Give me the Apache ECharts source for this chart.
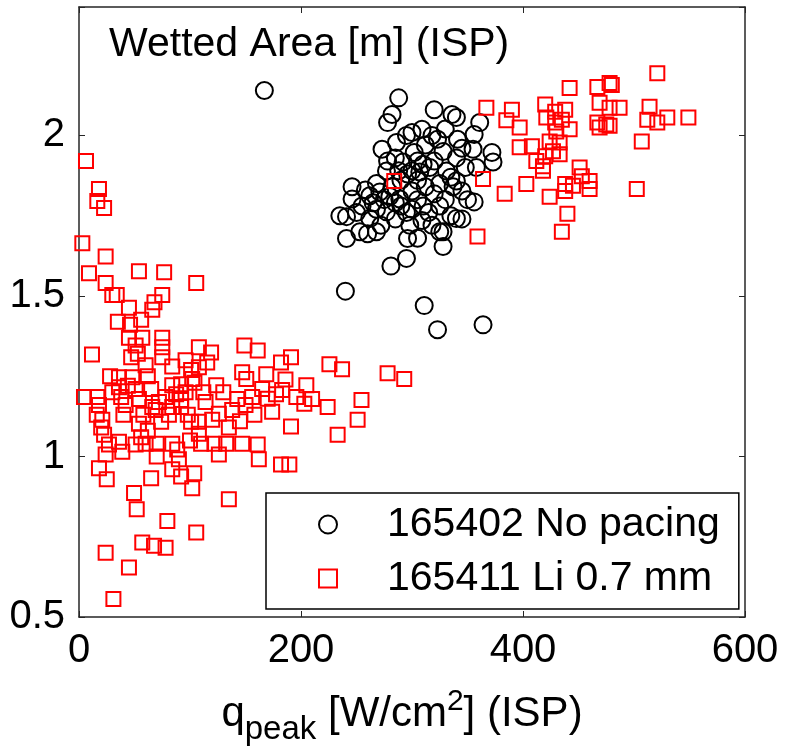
<!DOCTYPE html>
<html>
<head>
<meta charset="utf-8">
<script src="https://cdn.jsdelivr.net/npm/echarts@6/dist/echarts.min.js"></script>
<style>
  html, body { margin: 0; padding: 0; background: #fff; }
  #chart { width: 785px; height: 751px; }
</style>
</head>
<body>
<div id="chart"></div>
<script>
// Wetted area at the inner strike point versus peak heat flux, two discharges.
const seriesNames = ['165402 No pacing', '165411 Li 0.7 mm'];
const xTicks = [0, 200, 400, 600];
const yTicks = [0.5, 1, 1.5, 2];

// 165402, no pacing: [q_peak (W/cm^2), wetted area (m)]
const noPacing = [
  [167,2.14],[240,1.515],[311,1.47],[323,1.395],[364,1.41],[281,1.593],[295,1.617],[328,1.654],
  [296,1.679],[328,1.70],[309,1.735],[340,1.741],[356,1.793],[289,1.802],[300,1.827],[320,1.818],
  [345,1.827],[340,1.858],[307,1.886],[292,1.917],[331,1.889],[316,1.90],[302,1.947],[286,1.978],
  [273,1.957],[358,1.90],[355,1.957],[373,1.917],[372,1.947],[356,2.003],[341,1.988],[323,1.988],
  [309,2.019],[300,2.009],[361,2.04],[336,2.065],[340,2.056],[320,2.08],[278,2.04],[282,2.065],
  [288,2.117],[277,1.889],[246,1.84],[262,1.812],[271,1.824],[246,1.802],[235,1.75],[241,1.747],
  [262,1.741],[277,1.762],[253,1.70],[260,1.694],[241,1.679],
  [255,1.78],[265,1.79],[268,1.77],[275,1.80],[280,1.81],[285,1.79],[290,1.78],[295,1.76],
  [300,1.77],[305,1.80],[310,1.78],[315,1.76],[325,1.78],[330,1.80],[335,1.75],[318,1.72],
  [298,1.72],[285,1.74],[272,1.72],[268,1.70],[250,1.76],[282,1.84],[290,1.86],[296,1.88],
  [305,1.86],[312,1.84],[325,1.85],[335,1.87],[348,1.90],[340,1.93],[328,1.95],[312,1.97],
  [318,2.00],[330,2.02],[295,2.00],[305,1.92],[285,1.93],[268,1.85],[258,1.83],[350,1.80],
  [320,1.92],[300,1.89],[288,1.89],[310,1.91],[345,1.96],[278,1.92],[337,1.84],[325,1.70],
  [345,1.74],[305,1.68]
];

// 165411, lithium granules 0.7 mm
const lithium = [
  [367,2.086],[390,2.080],[385,2.047],[397,2.025],[397,1.963],[408,1.966],[420,2.096],[429,2.074],
  [438,2.08],[421,2.056],[429,2.04],[435,2.049],[442,2.019],[430,2.012],[424,1.981],[433,1.978],
  [427,1.951],[433,1.941],[420,1.935],[412,1.92],[418,1.904],[418,1.89],[442,2.148],[467,2.151],
  [478,2.163],[480,2.157],[469,2.102],[478,2.086],[487,2.086],[467,2.04],[475,2.034],[469,2.025],
  [478,2.03],[521,2.194],[514,2.089],[512,2.049],[521,2.04],[530,2.056],[549,2.056],[507,1.981],
  [364,1.864],[284,1.858],[383.5,1.818],[403,1.849],[424,1.809],[438,1.849],[445,1.843],[451,1.90],
  [453,1.873],[460,1.858],[460,1.833],[438,1.827],[440,1.756],[435,1.70],[359,1.685],[502.5,1.833],
  [278,1.259],[293,1.241],
  [6.3,1.92],[18,1.833],[16.5,1.796],[22.6,1.774],[3,1.664],[24,1.623],[9,1.571],[24,1.54],
  [30,1.503],[34,1.503],[54,1.577],[76.7,1.574],[75,1.503],[105.6,1.54],[45,1.463],[66,1.457],
  [56,1.426],[11.7,1.318],[45,1.37],[57,1.37],[75,1.37],[51,1.346],[75,1.34],[47,1.309],
  [53,1.32],[75,1.309],[60,1.284],[108,1.34],[119,1.324],[115.5,1.293],[108,1.278],[101,1.269],
  [149,1.346],[161,1.33],[191,1.309],[182,1.293],[225.6,1.287],[237,1.272],[147,1.262],[150.7,1.241],
  [168.7,1.256],[36,1.247],[36,1.216],[48,1.247],[51,1.21],[65,1.21],[84,1.222],[92,1.225],
  [102,1.241],[123.6,1.222],[4.5,1.185],[16.5,1.185],[18,1.16],[38,1.185],[42,1.16],[54,1.179],
  [78,1.185],[87.5,1.194],[92,1.176],[84,1.154],[92,1.154],[66,1.154],[69,1.145],[21,1.114],
  [54,1.102],[74,1.108],[81,1.13],[101,1.108],[108,1.108],[120,1.114],[126,1.133],[138,1.145],
  [142.6,1.179],[156,1.185],[158,1.13],[174,1.139],[191,1.093],[165,1.21],[177.5,1.194],[183,1.207],
  [195.8,1.185],[204.8,1.222],[210,1.179],[203,1.164],[224,1.154],[254.5,1.176],[251,1.114],[233,1.068],
  [22.6,1.068],[36,1.046],[27,1.037],[24,1.006],[39,1.015],[51,1.037],[60,1.04],[84,1.04],
  [88.5,1.022],[90,0.991],[108,1.071],[110,1.04],[122,1.04],[126,1.006],[132.6,1.04],[147,1.04],
  [161,1.037],[162,0.991],[182,0.975],[189.5,0.975],[18,0.963],[25,0.929],[65,0.932],[84,0.96],
  [92,0.938],[103.8,0.948],[102,0.901],[49.6,0.886],[52,0.836],[135,0.867],[79.6,0.799],[105.6,0.763],
  [57,0.732],[67.6,0.722],[78,0.716],[24,0.70],[45,0.654],[31,0.556],
  [16,1.13],[20,1.09],[30,1.20],[44,1.22],[58,1.13],[62,1.08],[72,1.17],[96,1.20],
  [98,1.13],[114,1.17],[130,1.20],[135,1.09],[145,1.11],[100,1.05],[70,1.04],[112,1.20],
  [150,1.16],[170,1.18],[186,1.24],[62,1.25],[84,1.28],[96,1.30],[104,1.23],[70,1.00],
  [56,1.06],[40,1.13],[28,1.25],[46,1.41],[68,1.48],[35,1.42]
];

const FONT = '"Liberation Sans", Arial, Helvetica, sans-serif';
const AXIS_COLOR = '#262626';

const onlyTicks = (list) => (v) => list.some(t => Math.abs(t - v) < 1e-9) ? String(v) : '';

const baseAxis = {
  axisLine: { show: true, onZero: false, lineStyle: { color: AXIS_COLOR, width: 1.5 } },
  axisTick: { show: true, inside: true, length: 6, lineStyle: { color: AXIS_COLOR, width: 1 } },
  splitLine: { show: false }
};

const chart = echarts.init(document.getElementById('chart'), null, { renderer: 'canvas' });
chart.setOption({
  animation: false,
  backgroundColor: '#fff',
  grid: { left: 79, top: 7, width: 666, height: 615, containLabel: false },
  title: {
    text: 'Wetted Area [m] (ISP)',
    left: 104, top: 19,
    textStyle: { fontFamily: FONT, fontSize: 41, fontWeight: 'normal', color: '#000' }
  },
  xAxis: [
    Object.assign({}, baseAxis, {
      type: 'value', position: 'bottom', min: xTicks[0], max: xTicks[xTicks.length - 1], interval: 200,
      axisLabel: { fontFamily: FONT, fontSize: 40, color: '#000', margin: 14, formatter: onlyTicks(xTicks) },
      name: '{a|q}{b|peak}{a| [W/cm}{c|2}{a|] (ISP)}',
      nameLocation: 'middle', nameGap: 66,
      nameTextStyle: {
        padding: [0, 20, 0, 0],
        rich: {
          a: { fontFamily: FONT, fontSize: 42, color: '#000' },
          b: { fontFamily: FONT, fontSize: 33, color: '#000', padding: [30, 0, 0, 0] },
          c: { fontFamily: FONT, fontSize: 30, color: '#000', padding: [0, 0, 26, 0] }
        }
      }
    }),
    Object.assign({}, baseAxis, {
      type: 'value', position: 'top', min: xTicks[0], max: xTicks[xTicks.length - 1], interval: 200,
      axisLabel: { show: false }
    })
  ],
  yAxis: [
    Object.assign({}, baseAxis, {
      type: 'value', position: 'left', min: 0.5, max: 2.4, interval: 0.5,
      axisLabel: { fontFamily: FONT, fontSize: 40, color: '#000', margin: 14, formatter: onlyTicks(yTicks) }
    }),
    Object.assign({}, baseAxis, {
      type: 'value', position: 'right', min: 0.5, max: 2.4, interval: 0.5,
      axisLabel: { show: false }
    })
  ],
  legend: {
    orient: 'vertical',
    left: 266, top: 493,
    padding: [11, 19, 10, 52],
    itemGap: 13,
    itemWidth: 18, itemHeight: 18,
    backgroundColor: '#fff',
    borderColor: '#000', borderWidth: 1.5,
    textStyle: { fontFamily: FONT, fontSize: 41, color: '#000', padding: [0, 0, 0, 45] },
    data: seriesNames
  },
  series: [
    {
      name: seriesNames[0], type: 'scatter', data: noPacing,
      symbol: 'circle', symbolSize: 17,
      itemStyle: { color: 'rgba(0,0,0,0)', borderColor: '#000', borderWidth: 2, opacity: 1 }
    },
    {
      name: seriesNames[1], type: 'scatter', data: lithium,
      symbol: 'rect', symbolSize: 14,
      itemStyle: { color: 'rgba(0,0,0,0)', borderColor: '#ff0000', borderWidth: 2, opacity: 1 }
    }
  ]
});
</script>
</body>
</html>
